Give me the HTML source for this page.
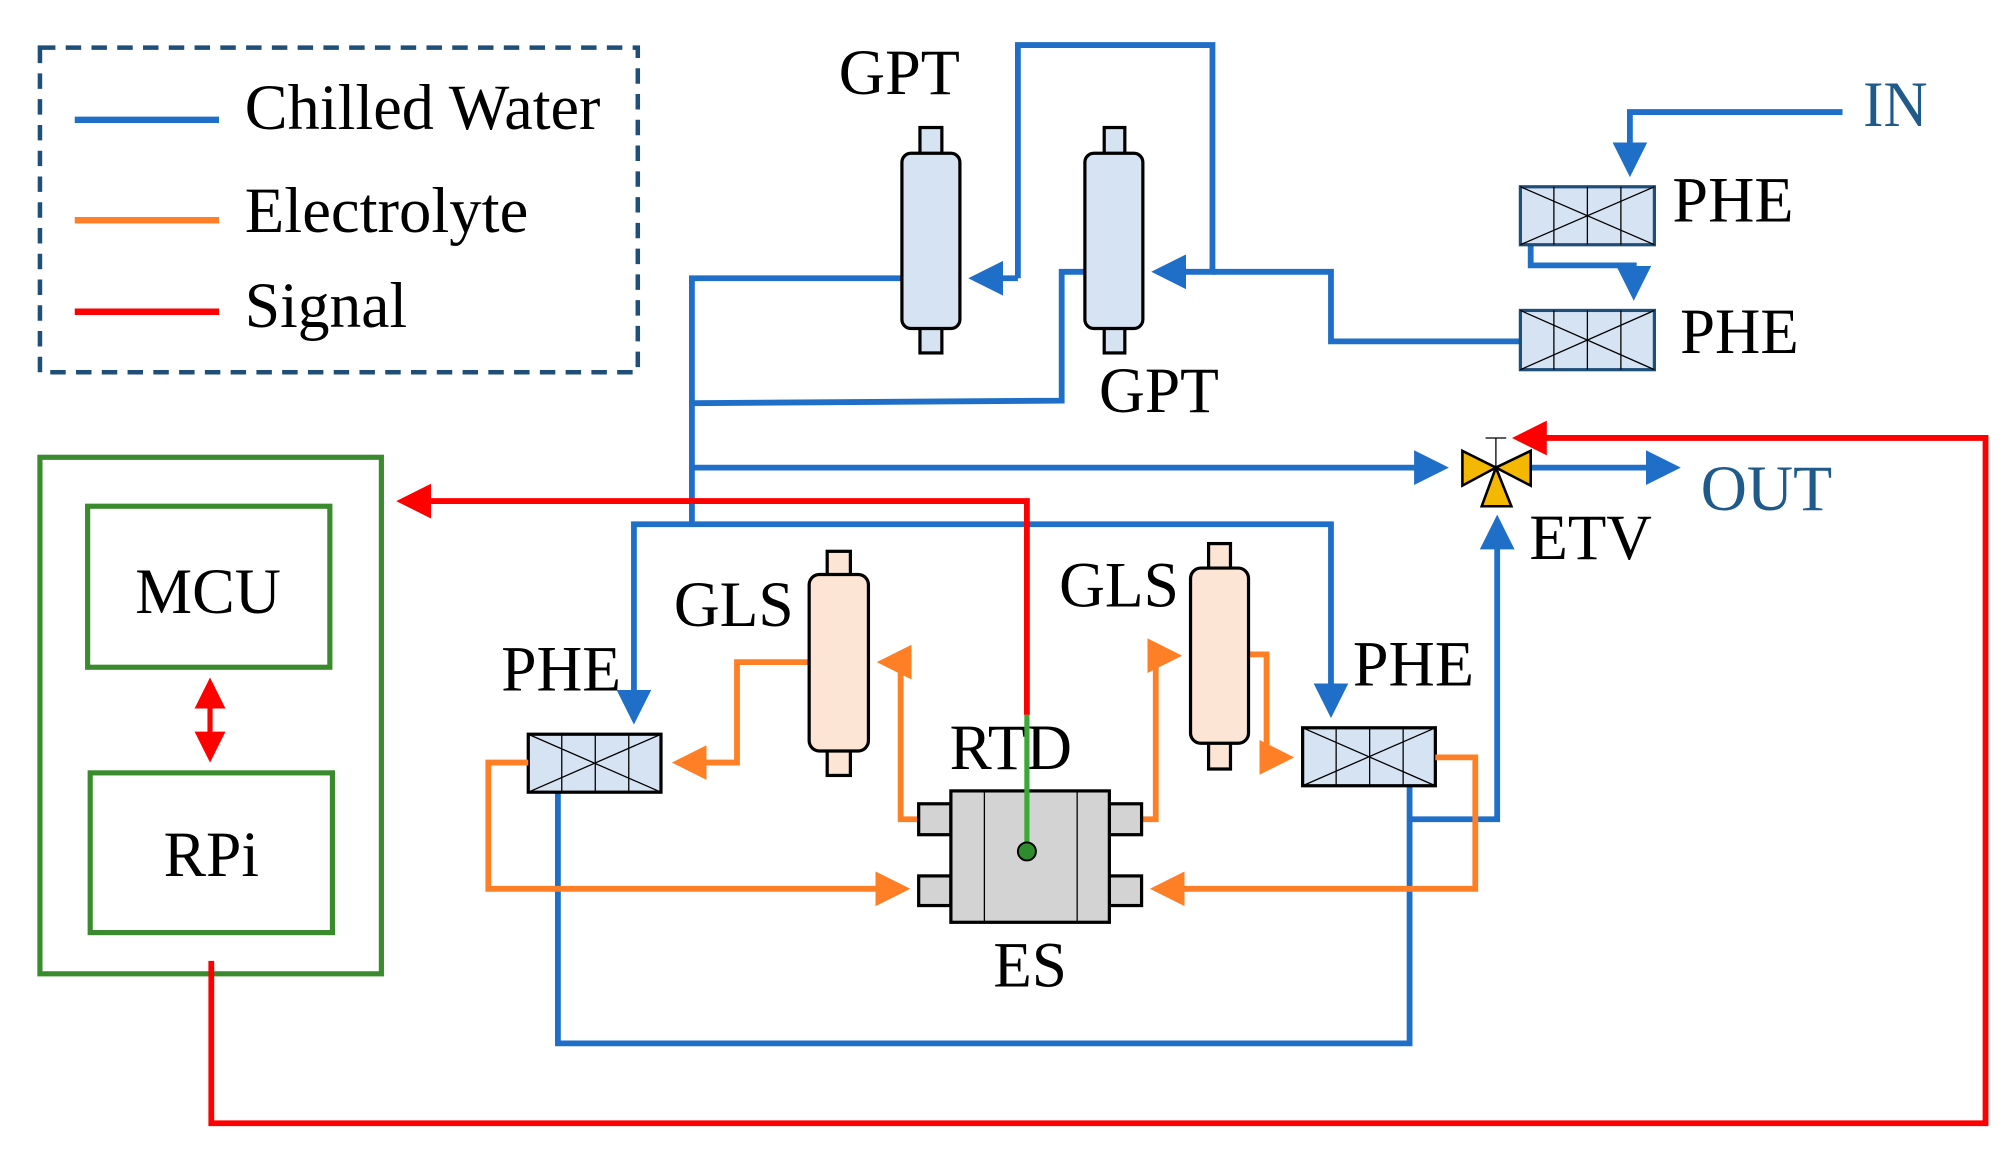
<!DOCTYPE html>
<html><head><meta charset="utf-8"><style>html,body{margin:0;padding:0;background:#fff}svg{display:block}</style></head>
<body>
<svg width="2010" height="1149" viewBox="0 0 1560 892" preserveAspectRatio="none" xmlns="http://www.w3.org/2000/svg">
<defs>
<marker id="ab" markerWidth="6" markerHeight="6" refX="5" refY="3" orient="auto" markerUnits="strokeWidth"><path d="M0,0 L6,3 L0,6 z" fill="#1f6fc8"/></marker>
<marker id="ao" markerWidth="6" markerHeight="6" refX="5" refY="3" orient="auto" markerUnits="strokeWidth"><path d="M0,0 L6,3 L0,6 z" fill="#ff7f27"/></marker>
<marker id="ar" markerWidth="6" markerHeight="6" refX="5" refY="3" orient="auto" markerUnits="strokeWidth"><path d="M0,0 L6,3 L0,6 z" fill="#ff0000"/></marker>
<marker id="ar2" markerWidth="6" markerHeight="6" refX="1" refY="3" orient="auto" markerUnits="strokeWidth"><path d="M6,0 L0,3 L6,6 z" fill="#ff0000"/></marker>
</defs>
<g font-family="'Liberation Serif', serif" font-size="50" fill="#000">
<!-- legend -->
<rect x="31" y="37" width="464" height="252" fill="none" stroke="#1f4e79" stroke-width="3.5" stroke-dasharray="12,8"/>
<line x1="58" y1="93" x2="170" y2="93" stroke="#1f6fc8" stroke-width="5"/>
<line x1="58" y1="171" x2="170" y2="171" stroke="#ff7f27" stroke-width="5"/>
<line x1="58" y1="242" x2="170" y2="242" stroke="#ff0000" stroke-width="5"/>
<text x="190" y="100" textLength="276" lengthAdjust="spacingAndGlyphs">Chilled Water</text>
<text x="190" y="180" textLength="220" lengthAdjust="spacingAndGlyphs">Electrolyte</text>
<text x="190" y="254" textLength="126" lengthAdjust="spacingAndGlyphs">Signal</text>

<!-- control box -->
<rect x="31" y="355" width="265" height="401" fill="none" stroke="#3a8a2e" stroke-width="4"/>
<rect x="68" y="393" width="188" height="125" fill="none" stroke="#3a8a2e" stroke-width="4"/>
<rect x="70" y="600" width="188" height="124" fill="none" stroke="#3a8a2e" stroke-width="4"/>
<text x="105" y="476" textLength="113" lengthAdjust="spacingAndGlyphs">MCU</text>
<text x="127" y="680" textLength="74" lengthAdjust="spacingAndGlyphs">RPi</text>
<line x1="163" y1="530" x2="163" y2="588" stroke="#ff0000" stroke-width="4" marker-start="url(#ar2)" marker-end="url(#ar)"/>

<!-- blue pipes -->
<g fill="none" stroke="#1f6fc8" stroke-width="4.5">
<polyline points="537,409 537,216 700,216"/>
<polyline points="790,216 756,216" marker-end="url(#ab)"/>
<polyline points="790,216 790,35 941,35 941,211 898,211" marker-end="url(#ab)"/>
<polyline points="941,211 1033,211 1033,265 1180,265"/>
<polyline points="842,211 824,211 824,311 537,313"/>
<polyline points="537,363 1120,363" marker-end="url(#ab)"/>
<polyline points="537,407 1033,407 1033,553" marker-end="url(#ab)"/>
<polyline points="537,407 492,407 492,558" marker-end="url(#ab)"/>
<polyline points="433,615 433,810 1094,810 1094,610"/>
<polyline points="1094,636 1162,636 1162,404" marker-end="url(#ab)"/>
<polyline points="1188,363 1300,363" marker-end="url(#ab)"/>
<polyline points="1430,87 1265,87 1265,133" marker-end="url(#ab)"/>
<polyline points="1188,190 1188,206 1268,206 1268,229" marker-end="url(#ab)"/>
</g>

<!-- GPTs -->
<g stroke="#000" stroke-width="2.5" fill="#d6e3f3">
<rect x="714" y="99" width="17" height="22"/><rect x="714" y="253" width="17" height="21"/>
<rect x="700" y="119" width="45" height="136" rx="7"/>
<rect x="857" y="99" width="16" height="22"/><rect x="857" y="253" width="16" height="21"/>
<rect x="842" y="119" width="45" height="136" rx="7"/>
</g>
<text x="651" y="73" textLength="94" lengthAdjust="spacingAndGlyphs">GPT</text>
<text x="853" y="320" textLength="93" lengthAdjust="spacingAndGlyphs">GPT</text>

<!-- PHE boxes -->
<g stroke="#000" stroke-width="1" fill="none">
<g transform="translate(1180,145)"><rect width="104" height="45" fill="#d6e3f3" stroke="#1f4e79" stroke-width="2.5"/><line x1="26" y1="0" x2="26" y2="45"/><line x1="52" y1="0" x2="52" y2="45"/><line x1="78" y1="0" x2="78" y2="45"/><line x1="0" y1="0" x2="104" y2="45"/><line x1="104" y1="0" x2="0" y2="45"/></g>
<g transform="translate(1180,241)"><rect width="104" height="46" fill="#d6e3f3" stroke="#1f4e79" stroke-width="2.5"/><line x1="26" y1="0" x2="26" y2="46"/><line x1="52" y1="0" x2="52" y2="46"/><line x1="78" y1="0" x2="78" y2="46"/><line x1="0" y1="0" x2="104" y2="46"/><line x1="104" y1="0" x2="0" y2="46"/></g>
<g transform="translate(410,570)"><rect width="103" height="45" fill="#d6e3f3" stroke="#000" stroke-width="2.5"/><line x1="26" y1="0" x2="26" y2="45"/><line x1="52" y1="0" x2="52" y2="45"/><line x1="78" y1="0" x2="78" y2="45"/><line x1="0" y1="0" x2="103" y2="45"/><line x1="103" y1="0" x2="0" y2="45"/></g>
<g transform="translate(1011,565)"><rect width="103" height="45" fill="#d6e3f3" stroke="#000" stroke-width="2.5"/><line x1="26" y1="0" x2="26" y2="45"/><line x1="52" y1="0" x2="52" y2="45"/><line x1="78" y1="0" x2="78" y2="45"/><line x1="0" y1="0" x2="103" y2="45"/><line x1="103" y1="0" x2="0" y2="45"/></g>
</g>
<text x="1298" y="172" textLength="94" lengthAdjust="spacingAndGlyphs">PHE</text>
<text x="1304" y="274" textLength="92" lengthAdjust="spacingAndGlyphs">PHE</text>
<text x="389" y="536" textLength="93" lengthAdjust="spacingAndGlyphs">PHE</text>
<text x="1050" y="532" textLength="94" lengthAdjust="spacingAndGlyphs">PHE</text>
<text x="1446" y="98" fill="#1f5a8a" textLength="50" lengthAdjust="spacingAndGlyphs">IN</text>
<text x="1320" y="396" fill="#1f5a8a" textLength="102" lengthAdjust="spacingAndGlyphs">OUT</text>
<text x="1187" y="434" textLength="95" lengthAdjust="spacingAndGlyphs">ETV</text>

<!-- orange -->
<g fill="none" stroke="#ff7f27" stroke-width="4.5">
<polyline points="628,514 572,514 572,592 526,592" marker-end="url(#ao)"/>
<polyline points="713,636 699,636 699,514 685,514" marker-end="url(#ao)"/>
<polyline points="410,592 379,592 379,690 702,690" marker-end="url(#ao)"/>
<polyline points="886,636 897,636 897,509 913,509" marker-end="url(#ao)"/>
<polyline points="969,508 983,508 983,588 1000,588" marker-end="url(#ao)"/>
<polyline points="1114,588 1145,588 1145,690 897,690" marker-end="url(#ao)"/>
</g>

<!-- GLS -->
<g stroke="#000" stroke-width="2.5" fill="#fde5d5">
<rect x="642" y="428" width="18" height="20"/><rect x="642" y="581" width="18" height="21"/>
<rect x="628" y="446" width="46" height="137" rx="8"/>
<rect x="938" y="422" width="17" height="21"/><rect x="938" y="575" width="17" height="22"/>
<rect x="924" y="441" width="45" height="136" rx="8"/>
</g>
<text x="523" y="486" textLength="93" lengthAdjust="spacingAndGlyphs">GLS</text>
<text x="822" y="471" textLength="93" lengthAdjust="spacingAndGlyphs">GLS</text>

<!-- ES -->
<g stroke="#000" stroke-width="2.5" fill="#d3d3d3">
<rect x="713" y="624" width="25" height="24"/><rect x="713" y="680" width="25" height="23"/>
<rect x="861" y="624" width="25" height="24"/><rect x="861" y="680" width="25" height="23"/>
<rect x="738" y="614" width="123" height="102"/>
</g>
<line x1="764" y1="614" x2="764" y2="716" stroke="#000" stroke-width="1"/>
<line x1="836" y1="614" x2="836" y2="716" stroke="#000" stroke-width="1"/>
<text x="737" y="597" textLength="95" lengthAdjust="spacingAndGlyphs">RTD</text>
<text x="771" y="766" textLength="57" lengthAdjust="spacingAndGlyphs">ES</text>

<!-- red signals -->
<g fill="none" stroke="#ff0000" stroke-width="4.5">
<polyline points="797,555 797,389 312,389" marker-end="url(#ar)"/>
<polyline points="164,746 164,872 1541,872 1541,340 1178,340" marker-end="url(#ar)"/>
</g>
<line x1="797" y1="555" x2="797" y2="655" stroke="#3aaa35" stroke-width="4"/>
<circle cx="797" cy="661" r="7" fill="#2e8b2e" stroke="#000" stroke-width="1.5"/>

<!-- valve -->
<line x1="1161" y1="363" x2="1161" y2="340" stroke="#000" stroke-width="1"/>
<line x1="1153" y1="340" x2="1169" y2="340" stroke="#000" stroke-width="1"/>
<g fill="#f5b800" stroke="#000" stroke-width="2">
<polygon points="1135,350 1161,363 1135,377"/>
<polygon points="1188,350 1161,363 1188,377"/>
<polygon points="1161,363 1150,393 1173,393"/>
</g>
</g>
</svg>
</body></html>
